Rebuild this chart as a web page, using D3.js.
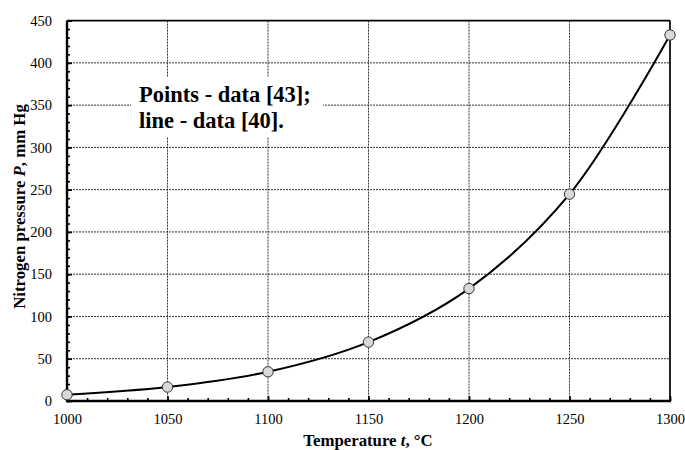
<!DOCTYPE html>
<html>
<head>
<meta charset="utf-8">
<script src="https://cdn.jsdelivr.net/npm/d3@7"></script>
<style>
  body { margin: 0; background: #fff; }
  svg { display: block; font-family: "Liberation Serif", "Times New Roman", serif; }
</style>
</head>
<body>
<div id="chart"></div>
<script>
// Points - data [43]
const pointTemps = [1000, 1050, 1100, 1150, 1200, 1250, 1300];
const pointPress = [7.4, 16.5, 34.6, 69.7, 133, 244.7, 433];
// Line - data [40]
const lineTemps = [1000, 1050, 1100, 1150, 1200, 1250, 1300];
const linePress = [7.4, 16.5, 34.6, 69.7, 133, 244.7, 433];

const xTicks = [1000, 1050, 1100, 1150, 1200, 1250, 1300];
const yTicks = [0, 50, 100, 150, 200, 250, 300, 350, 400, 450];

const W = 685, H = 450;
const margin = {top: 20.6, right: 15, bottom: 49, left: 67};
const width = W - margin.left - margin.right,
      height = H - margin.top - margin.bottom;

const svg = d3.select("#chart").append("svg")
    .attr("width", W)
    .attr("height", H);

const g = svg.append("g")
    .attr("transform", `translate(${margin.left},${margin.top})`);

const x = d3.scaleLinear().domain([1000, 1300]).range([0, width]);
const y = d3.scaleLinear().domain([0, 450]).range([height, 0]);

// Grid lines (dotted)
g.append("g").selectAll("line")
    .data(xTicks.slice(1, -1))
    .join("line")
    .attr("x1", d => x(d)).attr("x2", d => x(d))
    .attr("y1", 0).attr("y2", height)
    .attr("stroke", "#333").attr("stroke-width", 1)
    .attr("stroke-dasharray", "2,1");

g.append("g").selectAll("line")
    .data(yTicks.slice(1, -1))
    .join("line")
    .attr("y1", d => y(d)).attr("y2", d => y(d))
    .attr("x1", 0).attr("x2", width)
    .attr("stroke", "#333").attr("stroke-width", 1)
    .attr("stroke-dasharray", "2,1");

// White label box over the grid
g.append("rect")
    .attr("x", 131 - margin.left).attr("y", 77 - margin.top)
    .attr("width", 192).attr("height", 60)
    .attr("fill", "#fff");

const note = g.append("text")
    .attr("font-size", 22.5)
    .attr("font-weight", "bold")
    .attr("fill", "#000");
note.append("tspan").attr("x", 139 - margin.left).attr("y", 101.7 - margin.top)
    .text("Points - data [43];");
note.append("tspan").attr("x", 139 - margin.left).attr("y", 128 - margin.top)
    .text("line - data [40].");

// Minor ticks (inside)
const xMinor = d3.range(1000, 1301, 10);
const yMinor = d3.range(0, 451, 10);

g.append("g")
    .attr("transform", `translate(0,${height})`)
    .call(d3.axisBottom(x).tickValues(xMinor).tickSize(-3).tickFormat(""))
    .call(a => a.select(".domain").remove())
    .call(a => a.selectAll("line").attr("stroke-width", 1.6));

g.append("g")
    .call(d3.axisLeft(y).tickValues(yMinor).tickSize(-3).tickFormat(""))
    .call(a => a.select(".domain").remove())
    .call(a => a.selectAll("line").attr("stroke-width", 1.6));

// Major ticks + labels
const tickFont = "'Liberation Serif', 'Times New Roman', serif";
const xAxis = g.append("g")
    .attr("transform", `translate(0,${height})`)
    .call(d3.axisBottom(x).tickValues(xTicks).tickSize(-5).tickPadding(12.5).tickFormat(d3.format("d")));
xAxis.select(".domain").remove();
xAxis.selectAll("line").attr("stroke-width", 1.6);
xAxis.selectAll("text").attr("font-size", 14.5).style("font-family", tickFont).attr("fill", "#000");

const yAxis = g.append("g")
    .call(d3.axisLeft(y).tickValues(yTicks).tickSize(-5).tickPadding(15));
yAxis.select(".domain").remove();
yAxis.selectAll("line").attr("stroke-width", 1.6);
yAxis.selectAll("text").attr("font-size", 14.5).style("font-family", tickFont).attr("fill", "#000");

// Frame
g.append("line").attr("x1", 0).attr("x2", width).attr("y1", 0).attr("y2", 0)
    .attr("stroke", "#000").attr("stroke-width", 1.7);
g.append("line").attr("x1", width).attr("x2", width).attr("y1", 0).attr("y2", height)
    .attr("stroke", "#000").attr("stroke-width", 1.7);
g.append("line").attr("x1", 0).attr("x2", 0).attr("y1", 0).attr("y2", height + 1)
    .attr("stroke", "#000").attr("stroke-width", 2.4);
g.append("line").attr("x1", -1).attr("x2", width + 1).attr("y1", height).attr("y2", height)
    .attr("stroke", "#000").attr("stroke-width", 2.4);

// Line - data [40]
const lineData = lineTemps.map((t, i) => ({t, p: linePress[i]}));
g.append("path")
    .datum(lineData)
    .attr("fill", "none")
    .attr("stroke", "#000")
    .attr("stroke-width", 2)
    .attr("d", d3.line().x(d => x(d.t)).y(d => y(d.p)).curve(d3.curveCatmullRom.alpha(0.5)));

// Points - data [43]
g.append("g").selectAll("circle")
    .data(pointTemps.map((t, i) => ({t, p: pointPress[i]})))
    .join("circle")
    .attr("cx", d => x(d.t))
    .attr("cy", d => y(d.p))
    .attr("r", 5.2)
    .attr("fill", "#d9d9d9")
    .attr("stroke", "#333")
    .attr("stroke-width", 1);

// Axis titles
const xt = svg.append("text")
    .attr("x", 368).attr("y", 446)
    .attr("text-anchor", "middle")
    .attr("font-size", 16.8).attr("font-weight", "bold");
xt.append("tspan").text("Temperature ");
xt.append("tspan").attr("font-style", "italic").text("t");
xt.append("tspan").text(", °C");

const yt = svg.append("text")
    .attr("transform", "translate(24.5,206.5) rotate(-90)")
    .attr("text-anchor", "middle")
    .attr("font-size", 16.8).attr("font-weight", "bold");
yt.append("tspan").text("Nitrogen pressure ");
yt.append("tspan").attr("font-style", "italic").text("P");
yt.append("tspan").text(", mm Hg");
</script>
</body>
</html>
